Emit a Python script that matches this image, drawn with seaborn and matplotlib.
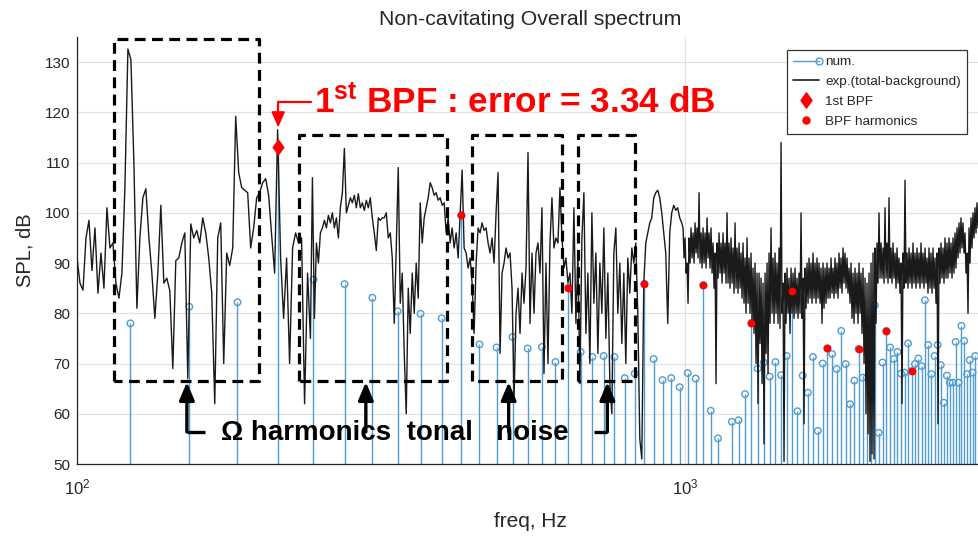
import numpy as np
import pandas as pd
import matplotlib
matplotlib.use("Agg")
import matplotlib.pyplot as plt
import seaborn as sns
from matplotlib.lines import Line2D
from matplotlib.path import Path
from matplotlib.legend_handler import HandlerLine2D
from matplotlib.ticker import LogLocator, NullFormatter

sns.set_theme(style="white")
plt.rcParams["font.family"] = ["Liberation Sans", "DejaVu Sans"]
plt.rcParams["mathtext.fontset"] = "custom"
plt.rcParams["mathtext.rm"] = "Liberation Sans"
plt.rcParams["mathtext.bf"] = "Liberation Sans:bold"
plt.rcParams["mathtext.it"] = "Liberation Sans:italic"

# ---------------------------------------------------------------- data
# numerical prediction: tonal levels at shaft-rate harmonics
shaft_hz = 30.6
blade_count = 7
orders = np.arange(4, 99)
num_spl = [
    78.0, 81.3, 82.2, 113.2, 86.7, 85.8, 83.1, 80.4, 79.9, 79.0,
    99.5, 73.8, 73.2, 75.3, 73.0, 73.3, 70.3, 85.1, 72.3, 71.3,
    71.5, 71.3, 67.1, 68.0, 85.9, 70.9, 66.7, 67.1, 65.3, 68.1,
    67.0, 85.6, 60.6, 55.1, 48.0, 58.4, 58.7, 63.9, 78.1, 69.0,
    70.2, 67.4, 70.3, 67.7, 71.5, 84.4, 60.5, 67.6, 64.2, 71.3,
    56.6, 70.0, 73.0, 71.9, 68.9, 76.5, 69.9, 61.9, 66.6, 72.9,
    67.2, 67.2, 72.9, 81.6, 56.2, 70.2, 76.5, 73.2, 70.9, 72.3,
    68.0, 68.2, 74.0, 68.5, 69.9, 71.0, 69.5, 82.6, 73.7, 67.9,
    71.5, 73.7, 69.7, 62.2, 67.6, 66.2, 66.2, 74.3, 66.2, 77.5,
    74.5, 67.9, 70.7, 68.2, 71.5,
]
bpf_harmonics = list(range(2, 12))   # 2nd .. 11th BPF marked in red

# measured spectrum (total minus background), 100-240 Hz
exp_low_spl = [
    91, 86, 84.6, 95, 98.5, 88.5, 97, 84, 92, 85,
    101, 93, 94, 86, 83, 88, 105, 132.6, 130.5, 110,
    81, 95, 103, 104.8, 95.2, 88, 79, 88, 101.5, 86,
    87, 84.5, 69, 90.5, 91, 94, 96, 67, 97.8, 95,
    96.5, 94, 99, 96, 91, 84, 62, 95, 98, 70,
    92, 89.5, 93, 119.2, 108, 105, 104.5, 104, 93, 97,
    103, 104, 106, 106.8, 103.5, 95.6, 88, 116.54, 91, 79,
    91, 70, 93, 96, 94, 95, 62, 88,
]
# measured spectrum, 242-987 Hz
exp_mid_spl = [
    75, 107, 79, 94, 90, 96, 97, 98.5, 97, 99.5,
    98, 100, 97, 99, 95, 101, 104, 112.8, 100, 101.5,
    103, 102, 103.5, 101, 103.8, 101, 102, 100.5, 102.5, 101,
    103, 99, 96, 92.5, 99, 98.5, 99, 99, 100, 95,
    96, 91, 78, 93, 109, 82, 88, 72, 60, 85,
    76, 88, 80, 90, 83, 102, 94, 99, 101, 103,
    106, 105, 103.5, 104, 102.5, 103, 101.5, 102, 96, 99,
    94, 97, 93, 96, 91, 100, 108.5, 93, 92, 89,
    91, 86, 76, 90, 97, 96, 98, 96.5, 97, 94,
    92, 95, 90, 100, 108, 72, 88, 90, 93, 91,
    92, 85, 63, 80, 85, 76, 88, 82, 89, 112,
    78, 92, 80, 92, 94, 88, 101, 68, 90, 70,
    94, 103, 93, 95, 94, 105, 95, 89, 91, 86,
    88, 80, 101, 78, 92, 66, 95, 104, 76, 88,
    70, 100, 82, 92, 72, 90, 80, 97, 75, 88,
    66, 60, 92, 97, 80, 90, 74, 88, 70, 91,
    84, 93, 90, 94, 80, 55, 51, 86, 94, 96,
    98, 99, 103, 104, 104.5, 103, 100, 96, 92, 78,
    96, 100, 101.5, 100.5, 101, 99, 98,
]
# measured spectrum above 990 Hz: alternating peak / trough levels
exp_high_peak = [
    97, 95, 90, 95, 97, 96, 98, 97, 104, 96,
    97, 96, 99, 96, 97, 94, 92, 94, 96, 94,
    96, 94, 100, 94, 95, 93, 98, 93, 94, 92,
    94, 91, 95, 91, 92, 89, 90, 88, 88, 87,
    86, 88, 90, 92, 97, 91, 92, 90, 93, 114,
    86, 88, 89, 87, 89, 88, 89, 87, 88, 100,
    87, 89, 90, 91, 90, 92, 90, 91, 90, 89,
    90, 89, 90, 89, 91, 89, 91, 90, 92, 91,
    93, 92, 91, 89, 90, 88, 89, 88, 90, 88,
    89, 87, 86, 88, 90, 92, 93, 94, 100, 94,
    93, 101, 94, 103, 93, 94, 92, 93, 91, 90,
    92, 106.5, 92, 93, 92, 94, 92, 93, 92, 94,
    92, 93, 91, 93, 92, 93, 91, 92, 93, 94,
    93, 95, 94, 95, 94, 95, 96, 97, 98, 99,
    98, 96, 92, 97, 99, 100, 101, 102, 103, 103,
    104,
]
exp_high_trough = [
    91, 88, 82, 90, 91, 90, 92, 91, 90, 89,
    90, 89, 91, 89, 88, 85, 66, 87, 88, 86,
    88, 86, 86, 85, 86, 84, 85, 84, 85, 83,
    82, 80, 82, 80, 78, 76, 70, 62, 74, 66,
    54, 72, 68, 78, 80, 78, 80, 78, 77, 80,
    50.5, 78, 80, 76, 80, 79, 80, 79, 80, 79,
    58, 81, 82, 83, 82, 83, 82, 83, 82, 78,
    81, 82, 83, 83, 84, 83, 84, 83, 85, 84,
    86, 85, 84, 82, 79, 78, 80, 78, 80, 76,
    70, 60, 56, 50.5, 52, 51, 78, 86, 87, 87,
    86, 87, 86, 87, 86, 87, 85, 86, 84, 62,
    85, 86, 85, 86, 85, 86, 85, 86, 85, 86,
    85, 86, 84, 85, 84, 85, 82, 58, 86, 87,
    86, 87, 87, 88, 87, 88, 89, 91, 92, 93,
    92, 88, 80, 90, 93, 95, 96, 97, 97, 98,
    98,
]

# ---------------------------------------------------------------- frames
stem_freq = orders * shaft_hz
num_df = pd.DataFrame({"freq": stem_freq, "spl": num_spl})
exp_high_spl = [v for pair in zip(exp_high_peak, exp_high_trough) for v in pair]
exp_df = pd.DataFrame({
    "freq": np.concatenate([np.geomspace(100, 239.4, len(exp_low_spl)),
                            np.geomspace(242, 987, len(exp_mid_spl)),
                            np.geomspace(992, 3100, len(exp_high_spl))]),
    "spl": exp_low_spl + exp_mid_spl + exp_high_spl,
})
bpf_hz = blade_count * shaft_hz
bpf1 = num_df[np.isclose(num_df["freq"], bpf_hz)]
bpf_df = num_df[np.isin(orders, [blade_count * k for k in bpf_harmonics])]
exp_at_bpf1 = exp_low_spl[67]
bpf1_error = exp_at_bpf1 - float(bpf1["spl"].iloc[0])

# ---------------------------------------------------------------- figure
stem_blue = "#4f9dd4"
ink = "#262626"
diamond = Path([(0, 1), (0.72, 0), (0, -1), (-0.72, 0), (0, 1)],
               [Path.MOVETO, Path.LINETO, Path.LINETO, Path.LINETO,
                Path.CLOSEPOLY])

fig = plt.figure(figsize=(9.79, 5.40), dpi=100)
ax = fig.add_axes([0.07865, 0.14074, 0.92646, 0.79074])
ax.set_xscale("log")
ax.set_xlim(100, 3100)
ax.set_ylim(50, 135)

ax.vlines(num_df["freq"], 0, num_df["spl"], color=stem_blue, lw=1.0, zorder=2)
sns.scatterplot(data=num_df, x="freq", y="spl", ax=ax, marker="o", s=22,
                facecolor="none", edgecolor=stem_blue, linewidth=1.0, zorder=3)
sns.lineplot(data=exp_df, x="freq", y="spl", ax=ax, color="#1a1a1a", lw=1.0,
             estimator=None, sort=False, zorder=4)
sns.scatterplot(data=bpf_df, x="freq", y="spl", ax=ax, marker="o", s=32,
                color="#ff0000", edgecolor="#ff0000", linewidth=0, zorder=5)
sns.scatterplot(data=bpf1, x="freq", y="spl", ax=ax, marker=diamond, s=150,
                color="#ff0000", edgecolor="#ff0000", linewidth=0, zorder=6)

# dashed regions of shaft-harmonic tonal noise
boxes = [(115, 199, 66.5, 134.6), (231.4, 406.5, 66.5, 115.5),
         (446.1, 627.3, 66.5, 115.5), (666.6, 827.7, 66.5, 115.5)]
for x0, x1, y0, y1 in boxes:
    ax.plot([x0, x0, x1, x1, x0], [y0, y1, y1, y0, y0], color="black",
            lw=2.3, ls=(0, (3.4, 2.0)), zorder=7, clip_on=False)

# pointers from the caption to each region
arrow_x = [151.6, 298.5, 512.6, 744.8]
for xa in arrow_x:
    ax.annotate("", xy=(xa, 66.3), xytext=(xa, 56.4),
                arrowprops=dict(arrowstyle="-|>,head_length=0.9,head_width=0.38",
                                color="black", lw=2.4, mutation_scale=12,
                                shrinkA=0, shrinkB=0), zorder=7)
ax.plot([arrow_x[0], 162.2], [56.4, 56.4], color="black", lw=2.4,
        solid_capstyle="butt", zorder=7)
ax.plot([708.5, arrow_x[-1]], [56.4, 56.4], color="black", lw=2.4,
        solid_capstyle="butt", zorder=7)
ax.text(172.4, 56.2, "\u03a9 harmonics  tonal   noise", fontsize=20,
        fontweight="bold", ha="left", va="center", color="black", zorder=8)

# first blade-passing frequency call-out
ax.plot([242.6, bpf_hz, bpf_hz], [122.0, 122.0, 119.6], color="#ff0000",
        lw=1.6, zorder=8)
ax.annotate("", xy=(bpf_hz, 117.0), xytext=(bpf_hz, 119.8),
            arrowprops=dict(arrowstyle="-|>,head_length=0.8,head_width=0.35",
                            color="#ff0000", lw=1.2, mutation_scale=12,
                            shrinkA=0, shrinkB=0), zorder=8)
ax.text(245.5, 119.84,
        r"1$^{\mathbf{st}}$ BPF : error = " + f"{bpf1_error:.2f} dB",
        color="#ff0000", fontsize=25.3, fontweight="bold",
        ha="left", va="baseline", zorder=8)

# ---------------------------------------------------------------- axes style
ax.set_yticks(range(50, 131, 10))
ax.xaxis.set_major_locator(LogLocator(base=10))
ax.xaxis.set_minor_locator(LogLocator(base=10, subs=np.arange(2, 10)))
ax.xaxis.set_minor_formatter(NullFormatter())
ax.grid(True, which="major", color="#e2e2e2", lw=0.9)
ax.set_axisbelow(True)
for side in ("top", "right"):
    ax.spines[side].set_visible(False)
for side in ("left", "bottom"):
    ax.spines[side].set_color(ink)
    ax.spines[side].set_linewidth(0.9)
ax.tick_params(axis="x", which="major", direction="in", length=6, width=0.8,
               colors=ink, labelsize=12, pad=10)
ax.tick_params(axis="x", which="minor", direction="in", length=4, width=0.8,
               colors=ink)
ax.tick_params(axis="y", which="major", direction="in", length=4, width=0.8,
               colors=ink, labelsize=11, pad=5)

ax.set_title("Non-cavitating Overall spectrum", fontsize=15.3, color=ink, pad=8.5)
ax.set_xlabel("freq, Hz", fontsize=15, color=ink)
ax.set_ylabel("SPL, dB", fontsize=14.5, color=ink)
ax.xaxis.set_label_coords(0.5, -0.112)
ax.yaxis.set_label_coords(-0.047, 0.5)


class StemLegendHandler(HandlerLine2D):
    """Legend key drawn like a stem: line with the marker at its right end."""

    def create_artists(self, legend, orig_handle, xdescent, ydescent,
                       width, height, fontsize, trans):
        artists = super().create_artists(legend, orig_handle, xdescent,
                                         ydescent, width, height, fontsize,
                                         trans)
        for art in artists:
            if isinstance(art, Line2D) and art.get_marker() not in ("None", None, ""):
                art.set_markevery([len(art.get_xdata()) - 1])
        return artists


h_num = Line2D([], [], color=stem_blue, lw=1.0, marker="o", mfc="none",
               mec=stem_blue, ms=5)
h_exp = Line2D([], [], color="#1a1a1a", lw=1.2)
h_bpf1 = Line2D([], [], ls="none", marker=diamond, color="#ff0000", ms=11)
h_bpf = Line2D([], [], ls="none", marker="o", color="#ff0000", ms=5)
leg = ax.legend([h_num, h_exp, h_bpf1, h_bpf],
                ["num.", "exp.(total-background)", "1st BPF", "BPF harmonics"],
                loc="upper right", bbox_to_anchor=(0.981, 0.97), fontsize=9.7,
                frameon=True, fancybox=False, edgecolor="#333333",
                framealpha=1, borderpad=0.45, labelspacing=0.55,
                handlelength=1.9, handletextpad=0.45, borderaxespad=0,
                handler_map={h_num: StemLegendHandler(numpoints=1)})
leg.get_frame().set_linewidth(0.9)
leg.set_zorder(10)

fig.savefig("out.png", dpi=100)
